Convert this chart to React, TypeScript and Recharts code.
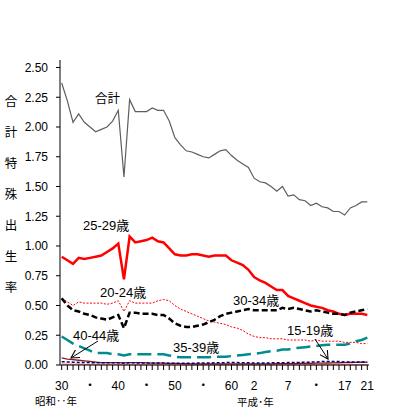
import React from 'react';
import { LineChart, Line, XAxis, YAxis } from 'recharts';

const years = [
  1955, 1956, 1957, 1958, 1959, 1960, 1961, 1962, 1963, 1964,
  1965, 1966, 1967, 1968, 1969, 1970, 1971, 1972, 1973, 1974,
  1975, 1976, 1977, 1978, 1979, 1980, 1981, 1982, 1983, 1984,
  1985, 1986, 1987, 1988, 1989, 1990, 1991, 1992, 1993, 1994,
  1995, 1996, 1997, 1998, 1999, 2000, 2001, 2002, 2003, 2004,
  2005, 2006, 2007, 2008, 2009,
];

const total = [
  2.37, 2.22, 2.04, 2.11, 2.04, 2.0, 1.96, 1.98, 2.0, 2.05,
  2.14, 1.58, 2.23, 2.13, 2.13, 2.13, 2.16, 2.14, 2.14, 2.05,
  1.91, 1.85, 1.8, 1.79, 1.77, 1.75, 1.74, 1.77, 1.8, 1.81,
  1.76, 1.72, 1.69, 1.66, 1.57, 1.54, 1.53, 1.5, 1.46, 1.5,
  1.42, 1.43, 1.39, 1.38, 1.34, 1.36, 1.33, 1.32, 1.29, 1.29,
  1.26, 1.32, 1.34, 1.37, 1.37,
];

const age15_19 = [
  0.028, 0.026, 0.024, 0.022, 0.02, 0.02, 0.019, 0.018, 0.018, 0.018,
  0.018, 0.016, 0.018, 0.018, 0.017, 0.017, 0.017, 0.016, 0.016, 0.015,
  0.015, 0.015, 0.015, 0.015, 0.016, 0.016, 0.017, 0.018, 0.019, 0.02,
  0.02, 0.02, 0.019, 0.018, 0.017, 0.017, 0.017, 0.018, 0.018, 0.019,
  0.02, 0.021, 0.022, 0.023, 0.024, 0.026, 0.029, 0.03, 0.03, 0.029,
  0.026, 0.025, 0.025, 0.025, 0.024,
];

const age20_24 = [
  0.56, 0.53, 0.5, 0.53, 0.52, 0.52, 0.52, 0.52, 0.51, 0.52,
  0.54, 0.45, 0.54, 0.52, 0.52, 0.52, 0.52, 0.54, 0.55, 0.54,
  0.5, 0.47, 0.45, 0.43, 0.41, 0.39, 0.37, 0.36, 0.35, 0.34,
  0.32, 0.31, 0.29, 0.26, 0.24, 0.23, 0.23, 0.22, 0.22, 0.22,
  0.21, 0.21, 0.21, 0.21, 0.2, 0.21, 0.2, 0.2, 0.2, 0.2,
  0.19, 0.19, 0.19, 0.18, 0.18,
];

const age25_29 = [
  0.91, 0.88, 0.85, 0.9, 0.89, 0.9, 0.91, 0.92, 0.95, 0.98,
  1.02, 0.72, 1.08, 1.03, 1.04, 1.05, 1.07, 1.04, 1.03, 0.98,
  0.93, 0.92, 0.92, 0.93, 0.93, 0.92, 0.91, 0.92, 0.92, 0.92,
  0.88, 0.86, 0.84, 0.8, 0.74, 0.71, 0.69, 0.66, 0.63, 0.63,
  0.58, 0.56, 0.54, 0.52, 0.5, 0.49, 0.48, 0.46, 0.45, 0.43,
  0.42, 0.43, 0.43, 0.43, 0.42,
];

const age30_34 = [
  0.56, 0.5, 0.46, 0.45, 0.43, 0.42, 0.4, 0.39, 0.38, 0.4,
  0.42, 0.31, 0.44, 0.44, 0.43, 0.43, 0.43, 0.42, 0.42, 0.39,
  0.35, 0.33, 0.32, 0.32, 0.33, 0.34, 0.36, 0.38, 0.41, 0.43,
  0.44, 0.45, 0.46, 0.47, 0.46, 0.46, 0.46, 0.46, 0.46, 0.48,
  0.47, 0.48, 0.47, 0.46, 0.45, 0.46, 0.45, 0.44, 0.43, 0.43,
  0.42, 0.44, 0.45, 0.46, 0.47,
];

const age35_39 = [
  0.24, 0.21, 0.18, 0.16, 0.14, 0.12, 0.1, 0.1, 0.1, 0.09,
  0.09, 0.08, 0.09, 0.09, 0.09, 0.09, 0.09, 0.09, 0.09, 0.08,
  0.07, 0.065, 0.065, 0.065, 0.065, 0.065, 0.065, 0.07, 0.07, 0.07,
  0.075, 0.08, 0.085, 0.09, 0.095, 0.1, 0.11, 0.115, 0.12, 0.13,
  0.13, 0.14, 0.145, 0.15, 0.155, 0.16, 0.165, 0.17, 0.17, 0.17,
  0.17, 0.18, 0.2, 0.21, 0.23,
];

const age40_44 = [
  0.06, 0.05, 0.045, 0.04, 0.035, 0.03, 0.025, 0.02, 0.02, 0.02,
  0.02, 0.018, 0.02, 0.02, 0.02, 0.018, 0.016, 0.015, 0.015, 0.014,
  0.013, 0.012, 0.011, 0.01, 0.01, 0.01, 0.01, 0.01, 0.01, 0.01,
  0.01, 0.01, 0.01, 0.01, 0.01, 0.01, 0.01, 0.01, 0.011, 0.011,
  0.012, 0.012, 0.013, 0.013, 0.014, 0.015, 0.016, 0.017, 0.018, 0.019,
  0.02, 0.021, 0.022, 0.023, 0.025,
];

const age45_49 = [
  0.008, 0.007, 0.006, 0.006, 0.005, 0.005, 0.004, 0.004, 0.004, 0.004,
  0.004, 0.003, 0.003, 0.003, 0.003, 0.003, 0.003, 0.003, 0.003, 0.003,
  0.003, 0.003, 0.003, 0.003, 0.003, 0.003, 0.003, 0.003, 0.003, 0.003,
  0.003, 0.003, 0.003, 0.003, 0.003, 0.003, 0.003, 0.003, 0.003, 0.003,
  0.003, 0.003, 0.003, 0.003, 0.003, 0.003, 0.003, 0.003, 0.003, 0.003,
  0.003, 0.003, 0.003, 0.003, 0.003,
];

const xLabelYears = [1955, 1960, 1965, 1970, 1975, 1980, 1985, 1989, 1995, 2000, 2005, 2009];
const xLabelTexts = ['30', '・', '40', '・', '50', '・', '60', '2', '7', '・', '17', '21'];

const yTicks = [0, 0.25, 0.5, 0.75, 1.0, 1.25, 1.5, 1.75, 2.0, 2.25, 2.5];

const yTitleChars = ['合', '計', '特', '殊', '出', '生', '率'];

const data = years.map((y, i) => ({
  year: y,
  total: total[i],
  a15: age15_19[i],
  a20: age20_24[i],
  a25: age25_29[i],
  a30: age30_34[i],
  a35: age35_39[i],
  a40: age40_44[i],
  a45: age45_49[i],
}));

const FONT = "'Liberation Sans', Arial, 'Noto Sans CJK JP', sans-serif";

const xLabel = (v: number) => {
  const idx = xLabelYears.indexOf(v);
  return idx >= 0 ? xLabelTexts[idx] : '';
};

export default function App() {
  return (
    <div style={{ position: 'absolute', left: 0, top: 0, width: 395, height: 409, background: '#fff', fontFamily: FONT }}>
      <LineChart
        width={395}
        height={409}
        data={data}
        margin={{ top: 60, right: 26, left: 0, bottom: 14 }}
        style={{ fontFamily: FONT }}
      >
        <XAxis
          dataKey="year"
          type="number"
          domain={[1954.7, 2009.3]}
          ticks={years}
          interval={0}
          tickFormatter={xLabel}
          tickSize={5}
          tickMargin={11}
          height={30}
          stroke="#000"
          tick={{ fill: '#000', fontSize: 12 }}
          allowDecimals={false}
        />
        <YAxis
          type="number"
          domain={[0, 2.563]}
          ticks={yTicks}
          interval={0}
          tickFormatter={(v: number) => v.toFixed(2)}
          tickSize={4}
          tickMargin={8}
          width={60}
          stroke="#000"
          tick={{ fill: '#000', fontSize: 12 }}
        />
        <Line dataKey="total" stroke="#5e5e5e" strokeWidth={1.2} dot={false} isAnimationActive={false} />
        <Line dataKey="a25" stroke="#ff0000" strokeWidth={2.5} dot={false} isAnimationActive={false} />
        <Line dataKey="a20" stroke="#ff0000" strokeWidth={1} strokeDasharray="2 1.5" dot={false} isAnimationActive={false} />
        <Line dataKey="a30" stroke="#000000" strokeWidth={2.5} strokeDasharray="6 3" dot={false} isAnimationActive={false} />
        <Line dataKey="a35" stroke="#008c8c" strokeWidth={2.5} strokeDasharray="14 6" dot={false} isAnimationActive={false} />
        <Line dataKey="a45" stroke="#ff9999" strokeWidth={1.5} dot={false} isAnimationActive={false} />
        <Line dataKey="a40" stroke="#8b1a1a" strokeWidth={1.3} dot={false} isAnimationActive={false} />
        <Line dataKey="a15" stroke="#000080" strokeWidth={1.5} strokeDasharray="3 2" dot={false} isAnimationActive={false} />
      </LineChart>
      <svg
        width={395}
        height={409}
        style={{ position: 'absolute', left: 0, top: 0, pointerEvents: 'none', fontFamily: FONT }}
      >
        <defs>
          <marker id="arr" viewBox="0 0 10 10" refX="9" refY="5" markerWidth="9" markerHeight="9" markerUnits="userSpaceOnUse" orient="auto">
            <path d="M0,0 L9,5 L0,10" fill="none" stroke="#000" strokeWidth={1.2} />
          </marker>
        </defs>
        {yTitleChars.map((c, i) => (
          <text key={c} x={11} y={102 + i * 31} fontSize={12.5} textAnchor="middle" dominantBaseline="central" fill="#000">
            {c}
          </text>
        ))}
        <text x={95} y={99} fontSize={12.5} dominantBaseline="central" fill="#000">合計</text>
        <text x={83} y={225} fontSize={13} dominantBaseline="central" fill="#000">25-29歳</text>
        <text x={100} y={292} fontSize={13} dominantBaseline="central" fill="#000">20-24歳</text>
        <text x={233} y={300} fontSize={13} dominantBaseline="central" fill="#000">30-34歳</text>
        <text x={73} y={335} fontSize={13} dominantBaseline="central" fill="#000">40-44歳</text>
        <text x={173} y={347} fontSize={13} dominantBaseline="central" fill="#000">35-39歳</text>
        <text x={287} y={330} fontSize={13} dominantBaseline="central" fill="#000">15-19歳</text>
        <line x1={98} y1={341} x2={71} y2={358} stroke="#000" strokeWidth={1} markerEnd="url(#arr)" />
        <line x1={315} y1={339} x2={328} y2={359} stroke="#000" strokeWidth={1} markerEnd="url(#arr)" />
        <text x={35} y={401} fontSize={10.5} dominantBaseline="central" fill="#000">昭和‥年</text>
        <text x={237} y={402} fontSize={10.5} dominantBaseline="central" fill="#000">平成･年</text>
      </svg>
    </div>
  );
}
